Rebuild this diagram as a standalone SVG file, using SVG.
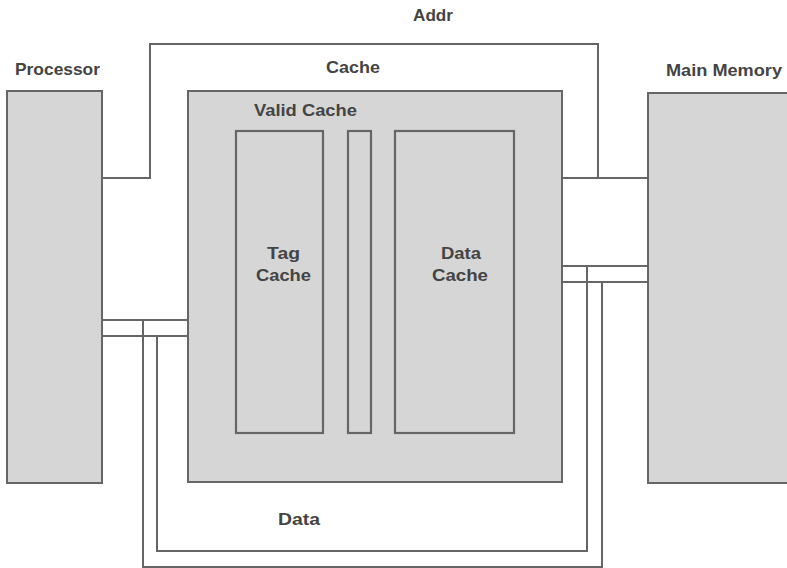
<svg xmlns="http://www.w3.org/2000/svg" width="787" height="568" viewBox="0 0 787 568">
<style>
.box{fill:#d6d6d6;stroke:#666;stroke-width:2}
.inner{fill:#d6d6d6;stroke:#666;stroke-width:2.2}
.wire{fill:none;stroke:#666;stroke-width:2}
.lbl{font-family:"Liberation Sans",Arial,sans-serif;font-weight:bold;font-size:16.5px;fill:#444}
</style>
<rect width="787" height="568" fill="#fff"/>
<g id="connectors">
<polyline class="wire" points="102,178 150,178 150,44 598,44 598,178"/>
<line class="wire" x1="562" y1="178" x2="648" y2="178"/>
<polyline class="wire" points="102,320 188,320"/>
<polyline class="wire" points="102,336 188,336"/>
<polyline class="wire" points="143,320 143,567 602,567 602,282"/>
<polyline class="wire" points="157,336 157,551 587,551 587,266"/>
<line class="wire" x1="562" y1="266" x2="648" y2="266"/>
<line class="wire" x1="562" y1="282" x2="648" y2="282"/>
<text class="lbl" x="413" y="21" textLength="40" lengthAdjust="spacingAndGlyphs">Addr</text>
<text class="lbl" x="278" y="525" textLength="42" lengthAdjust="spacingAndGlyphs">Data</text>
</g>
<g id="processor">
<rect class="box" x="7" y="91" width="95" height="392"/>
<text class="lbl" x="15" y="75" textLength="85" lengthAdjust="spacingAndGlyphs">Processor</text>
</g>
<g id="cache">
<rect class="box" x="188" y="91" width="374" height="391"/>
<text class="lbl" x="326" y="73" textLength="54" lengthAdjust="spacingAndGlyphs">Cache</text>
<text class="lbl" x="254" y="116" textLength="103" lengthAdjust="spacingAndGlyphs">Valid Cache</text>
</g>
<g id="tag-cache">
<rect class="inner" x="236" y="131" width="87" height="302"/>
<text class="lbl" x="267" y="259" textLength="33" lengthAdjust="spacingAndGlyphs">Tag</text>
<text class="lbl" x="256" y="281" textLength="55" lengthAdjust="spacingAndGlyphs">Cache</text>
</g>
<g id="valid-cache">
<rect class="inner" x="348" y="131" width="23" height="302"/>
</g>
<g id="data-cache">
<rect class="inner" x="395" y="131" width="119" height="302"/>
<text class="lbl" x="441" y="259" textLength="40" lengthAdjust="spacingAndGlyphs">Data</text>
<text class="lbl" x="432" y="281" textLength="56" lengthAdjust="spacingAndGlyphs">Cache</text>
</g>
<g id="main-memory">
<rect class="box" x="648" y="93" width="145" height="390"/>
<text class="lbl" x="666" y="76" textLength="116" lengthAdjust="spacingAndGlyphs">Main Memory</text>
</g>
</svg>
